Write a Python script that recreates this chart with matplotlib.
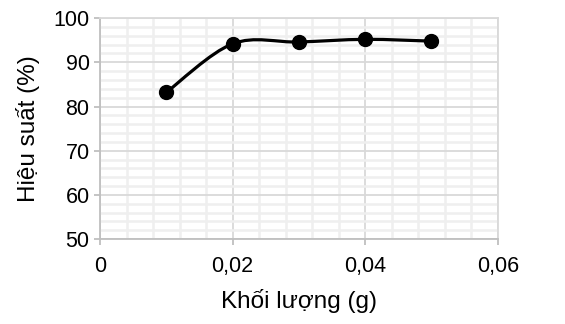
import numpy as np
import matplotlib
matplotlib.use("Agg")
import matplotlib.pyplot as plt
from matplotlib.path import Path
from matplotlib.patches import PathPatch
from matplotlib.ticker import MultipleLocator, FuncFormatter

plt.rcParams["font.family"] = ["Liberation Sans", "DejaVu Sans"]

mass = [0.01, 0.02, 0.03, 0.04, 0.05]
efficiency = [83.2, 94.2, 94.6, 95.2, 94.8]


def smooth_path(x, y, t=1 / 6):
    """Excel-like smoothed line: Catmull-Rom segments as cubic Beziers."""
    pts = np.column_stack([x, y])
    verts = [pts[0]]
    codes = [Path.MOVETO]
    n = len(pts)
    for i in range(n - 1):
        p0 = pts[max(i - 1, 0)]
        p1 = pts[i]
        p2 = pts[i + 1]
        p3 = pts[min(i + 2, n - 1)]
        c1 = p1 + (p2 - p0) * t
        c2 = p2 - (p3 - p1) * t
        verts += [c1, c2, p2]
        codes += [Path.CURVE4] * 3
    return Path(verts, codes)


fig = plt.figure(figsize=(5.65, 3.24), dpi=100)
ax = fig.add_axes([0.177, 0.262, 0.704, 0.682])

ax.set_xlim(0, 0.06)
ax.set_ylim(50, 100)
ax.xaxis.set_major_locator(MultipleLocator(0.02))
ax.xaxis.set_minor_locator(MultipleLocator(0.004))
ax.yaxis.set_major_locator(MultipleLocator(10))
ax.yaxis.set_minor_locator(MultipleLocator(2))
ax.xaxis.set_major_formatter(FuncFormatter(
    lambda v, p: "0" if abs(v) < 1e-9 else f"{v:.2f}".replace(".", ",")))

ax.grid(which="minor", color="#efefef", lw=1.8)
ax.grid(which="major", color="#d9d9d9", lw=1.3)
ax.set_axisbelow(True)

for s in ["top", "right"]:
    ax.spines[s].set_color("#d9d9d9")
    ax.spines[s].set_linewidth(1.3)
for s in ["left", "bottom"]:
    ax.spines[s].set_color("#bfbfbf")
    ax.spines[s].set_linewidth(1.3)

ax.tick_params(which="major", length=4, width=1.3, color="#bfbfbf",
               labelsize=15.5, pad=3.5)
ax.tick_params(which="minor", length=0)
ax.tick_params(axis="x", pad=8)

ax.add_patch(PathPatch(smooth_path(mass, efficiency), fill=False,
                       lw=2.3, color="black", zorder=3))
ax.plot(mass, efficiency, "o", color="black", ms=10, zorder=4)

ax.set_xlabel("Khối lượng (g)", fontsize=17.5, labelpad=9)
ax.set_ylabel("Hiệu suất (%)", fontsize=17.5, labelpad=10)

fig.savefig("out.png", dpi=100)
